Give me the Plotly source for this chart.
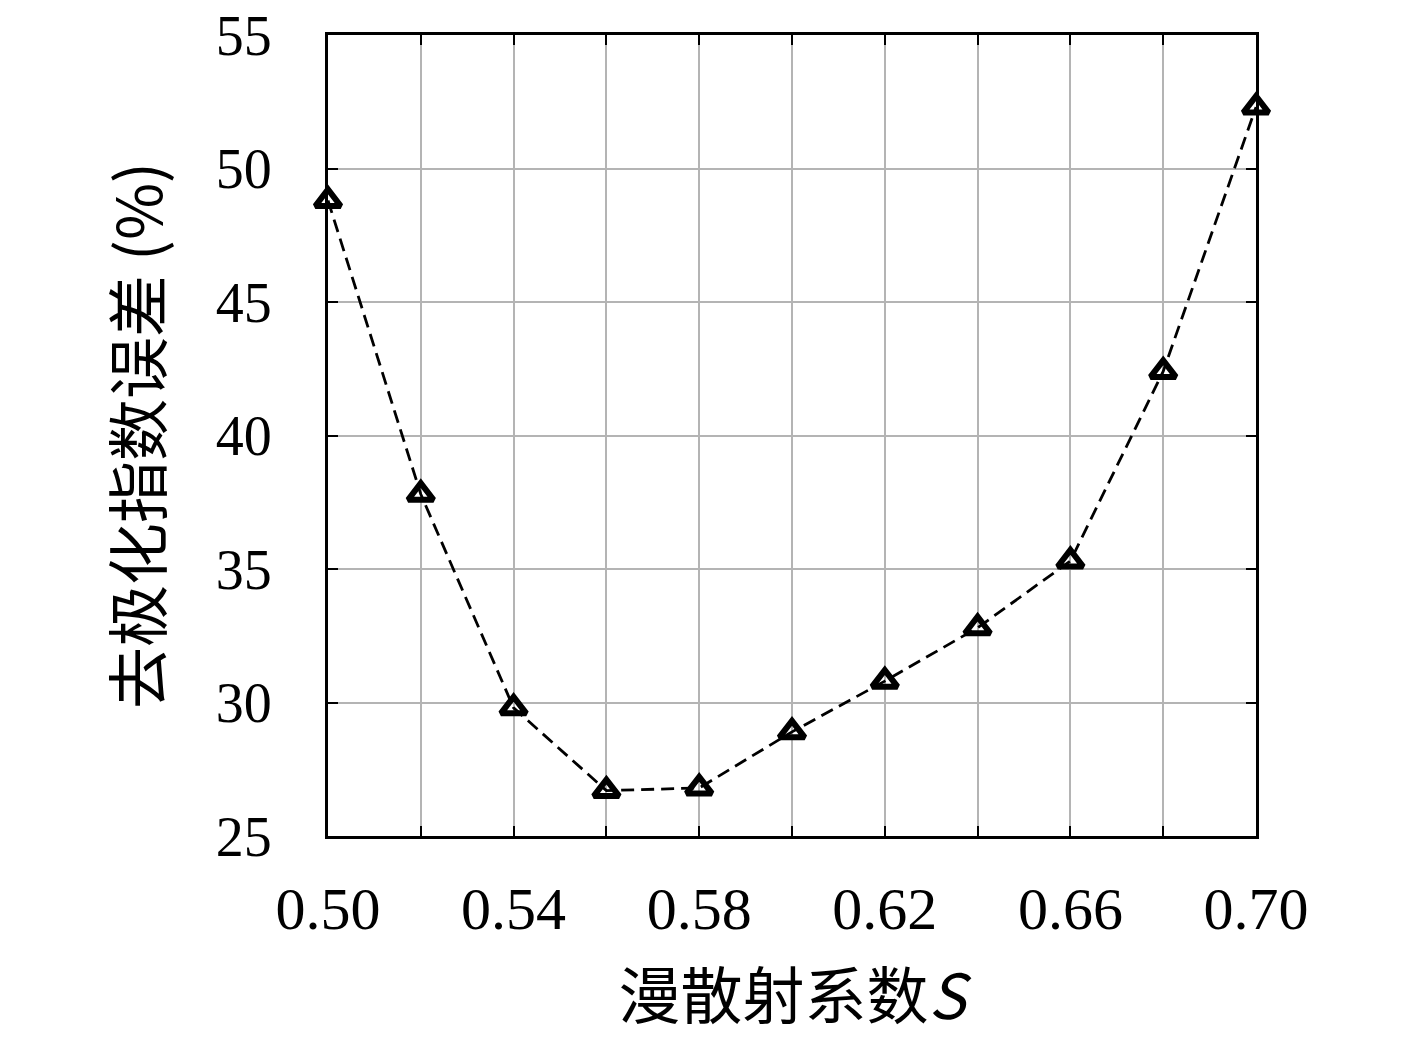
import plotly.graph_objects as go

# 漫散射系数 S 与去极化指数误差
s_vals = [0.50, 0.52, 0.54, 0.56, 0.58, 0.60, 0.62, 0.64, 0.66, 0.68, 0.70]
err_vals = [48.8, 37.8, 29.8, 26.7, 26.8, 28.9, 30.8, 32.8, 35.3, 42.4, 52.3]

x_ticks = [0.50, 0.54, 0.58, 0.62, 0.66, 0.70]
x_ticktext = ["0.50", "0.54", "0.58", "0.62", "0.66", "0.70"]
y_ticks = [25, 30, 35, 40, 45, 50, 55]

serif = "Liberation Serif, DejaVu Serif, serif"
cjk = "Noto Sans CJK SC"

fig = go.Figure()
fig.add_trace(go.Scatter(
    x=s_vals, y=err_vals, mode="lines+markers",
    line=dict(color="black", width=2.8, dash="13px,7px"),
    marker=dict(symbol="triangle-up-open", size=22, color="black",
                line=dict(color="black", width=6)),
    showlegend=False, cliponaxis=False,
))

fig.update_xaxes(
    range=[0.50, 0.70], tickvals=x_ticks, ticktext=x_ticktext,
    showgrid=True, gridcolor="#b4b4b4", gridwidth=1.5,
    minor=dict(dtick=0.02, showgrid=True, gridcolor="#b4b4b4", gridwidth=1.5,
               ticks="inside", ticklen=10, tickcolor="black", tickwidth=2),
    ticks="inside", ticklen=10, tickwidth=2, tickcolor="black",
    showline=True, linecolor="black", linewidth=3, mirror="ticks",
    zeroline=False, ticklabelstandoff=18, ticklabeloverflow="allow",
    automargin=False,
    tickfont=dict(family=serif, size=60, color="black"),
    title=dict(text="漫散射系数<i>S</i>", font=dict(family=cjk, size=62, color="black"),
               standoff=35),
)
fig.update_yaxes(
    range=[25, 55], tickvals=y_ticks,
    showgrid=True, gridcolor="#b4b4b4", gridwidth=1.5,
    ticks="inside", ticklen=10, tickwidth=2, tickcolor="black",
    showline=True, linecolor="black", linewidth=3, mirror="ticks",
    zeroline=False, ticklabelstandoff=42, ticklabeloverflow="allow",
    automargin=False,
    tickfont=dict(family=serif, size=56, color="black"),
    title=dict(text="去极化指数误差 (%)", font=dict(family=cjk, size=62, color="black"),
               standoff=34),
)

fig.update_layout(
    width=1417, height=1046,
    margin=dict(l=320, r=169, t=27, b=218),
    plot_bgcolor="white", paper_bgcolor="white",
)

fig.write_html("out.html")
